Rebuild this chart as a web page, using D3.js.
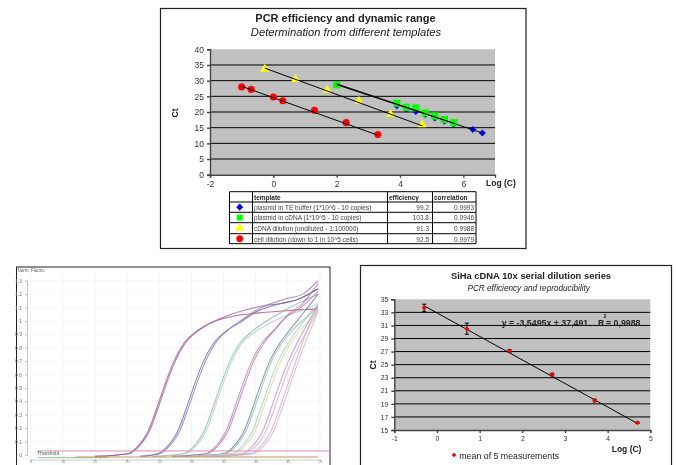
<!DOCTYPE html>
<html><head><meta charset="utf-8">
<script src="https://cdn.jsdelivr.net/npm/d3@7"></script>
<style>
html,body{margin:0;padding:0;background:#fff}
svg{display:block}
text{font-family:"Liberation Sans",Arial,sans-serif;fill:#222}
</style></head><body>
<div id="chart"></div>
<script>
// ---------- top chart data ----------
const topTitle = "PCR efficiency and dynamic range";
const topSubtitle = "Determination from different templates";
const blueX = [2, 3.9, 4.2, 4.5, 4.8, 5.1, 5.4, 5.7, 6.3, 6.6];
const blueY = [29, 22, 20.9, 20.2, 19.2, 18.1, 17.1, 16.2, 14.4, 13.3];
const greenX = [2, 3.9, 4.2, 4.5, 4.8, 5.1, 5.4, 5.7];
const greenY = [28.7, 22.8, 21.5, 21.3, 19.7, 18.7, 17.6, 16.6];
const yellowX = [-0.27, 0.7, 1.7, 2.7, 3.7, 4.7];
const yellowY = [33.7, 30.4, 27, 23.5, 19.3, 16];
const redX = [-1, -0.7, 0, 0.3, 1.3, 2.3, 3.3];
const redY = [28, 27.2, 24.8, 23.6, 20.5, 16.6, 12.8];
const blueTrend = [[2, 29], [6.6, 13.3]];
const greenTrend = [[2, 28.7], [5.7, 16.4]];
const yellowTrend = [[-0.27, 34], [4.7, 15.6]];
const redTrend = [[-1, 28.2], [3.3, 12.6]];
const tableHeader = ["template", "efficiency", "correlation"];
const tableTemplates = ["plasmid in TE buffer (1*10^6 - 10 copies)", "plasmid in cDNA (1*10^5 - 10 copies)", "cDNA dilution (undiluted - 1:100000)", "cell dilution (down to 1 in 10^5 cells)"];
const tableEfficiency = ["99.2", "103.8", "91.3", "92.5"];
const tableCorrelation = ["0.9993", "0.9946", "0.9988", "0.9979"];

// ---------- amplification plot data: [cycle, normalised fluorescence] ----------
const ampColors = ["#b2476f","#8d5fa8","#5d69a6","#9a6cb0","#7fb5a8","#a9cfae","#c56fa6","#a777b8","#66799f","#86bdb4","#a8cf98","#c9d9a8","#b88cc4","#dba9cc","#d3a3c8","#c9b5c6"];
const ampCycles = [
 [15,20.1,21.6,23.4,24.7,26,27.3,28.8,30.7,32.7,36,40.6,45.8,49.7],
 [15,20.3,21.8,23.6,24.9,26.2,27.5,29,30.9,32.9,36.2,40.8,46,49.7],
 [22,24.8,26.2,28,29.3,30.6,31.9,33.4,35.3,37.3,40.6,44,47,49.7],
 [22,25.1,26.5,28.3,29.6,30.9,32.2,33.7,35.6,37.6,40.9,44.3,47.3,49.7],
 [24,28.8,30.3,32.1,33.4,34.7,36,37.5,39.4,41.4,44.5,47,49.7],
 [24,29.1,30.6,32.4,33.7,35,36.3,37.8,39.7,41.7,44.8,47.3,49.7],
 [27,32.2,33.7,35.5,36.8,38.1,39.4,40.9,42.8,44.8,47,49.7],
 [27,32.5,34,35.8,37.1,38.4,39.7,41.2,43.1,45.1,47.3,49.7],
 [29,35,36.5,38.3,39.6,40.9,42.2,43.7,45.6,47.6,49.7],
 [29,35.3,36.8,38.6,39.9,41.2,42.5,44,45.9,47.9,49.7],
 [30,36.3,37.8,39.6,40.9,42.2,43.5,45,46.9,48.5,49.7],
 [30,36.7,38.2,40,41.3,42.6,43.9,45.4,47.3,48.8,49.7],
 [32,37.9,39.4,41.2,42.5,43.8,45.1,46.6,48.3,49.7],
 [32,38.4,39.9,41.7,43,44.3,45.6,47.1,48.7,49.7],
 [34,39.2,40.7,42.5,43.8,45.1,46.4,47.6,48.8,49.7],
 [34,39.6,41.1,42.9,44.2,45.5,46.8,48,49.1,49.7]
];
const ampValues = [
 [-0.01,0.01,0.06,0.19,0.36,0.54,0.70,0.83,0.92,0.98,1.03,1.06,1.08,1.09],
 [-0.01,0.01,0.06,0.19,0.36,0.54,0.70,0.83,0.92,0.98,1.05,1.11,1.15,1.24],
 [-0.01,0.01,0.06,0.19,0.36,0.54,0.70,0.83,0.92,0.98,1.08,1.13,1.17,1.24],
 [-0.01,0.01,0.06,0.19,0.36,0.54,0.70,0.83,0.93,1.00,1.10,1.16,1.20,1.30],
 [-0.01,0.01,0.06,0.19,0.36,0.54,0.70,0.83,0.92,0.99,1.08,1.14,1.20],
 [-0.01,0.01,0.06,0.19,0.36,0.54,0.70,0.83,0.91,0.97,1.04,1.08,1.13],
 [-0.01,0.01,0.06,0.19,0.36,0.54,0.70,0.83,0.93,1.03,1.10,1.22],
 [-0.01,0.01,0.06,0.19,0.36,0.54,0.70,0.83,0.94,1.05,1.13,1.28],
 [-0.01,0.01,0.06,0.19,0.36,0.54,0.70,0.83,0.95,1.07,1.20],
 [-0.01,0.01,0.06,0.19,0.36,0.54,0.70,0.83,0.94,1.03,1.12],
 [-0.01,0.01,0.06,0.19,0.36,0.54,0.70,0.83,0.96,1.05,1.10],
 [-0.01,0.01,0.06,0.19,0.36,0.54,0.70,0.83,0.95,1.03,1.08],
 [-0.01,0.01,0.06,0.19,0.36,0.54,0.70,0.85,1.00,1.12],
 [-0.01,0.01,0.06,0.19,0.36,0.54,0.70,0.85,0.99,1.08],
 [-0.01,0.01,0.06,0.19,0.36,0.54,0.72,0.88,1.02,1.10],
 [-0.01,0.01,0.06,0.19,0.36,0.54,0.72,0.87,1.00,1.07]
];
const ampYTicks = [0,0.1,0.2,0.3,0.4,0.5,0.6,0.7,0.8,0.9,1,1.1,1.2,1.3];
const ampXTicks = [5,10,15,20,25,30,35,40,45,50];
const thresholdLevel = 0.03;
const baselineGreen = [[6.2,-0.02],[17,-0.02]];
const baselineTan = [[12,-0.015],[49.7,-0.015]];

// ---------- SiHa chart data ----------
const sihaX = [-0.3, 0.7, 1.7, 2.7, 3.7, 4.7];
const sihaY = [33.7, 30.5, 27.1, 23.5, 19.5, 16.1];
const sihaErr = [0.55, 0.85, 0.2, 0.2, 0.2, 0.1];
const sihaTrend = [[-0.3, 34], [4.7, 16]];
const sihaYTicks = [15,17,19,21,23,25,27,29,31,33,35];
const sihaXTicks = [-1,0,1,2,3,4,5];

const svg = d3.select("#chart").append("svg").attr("width",676).attr("height",465);
const defs = svg.append("defs");
defs.append("filter").attr("id","soft").attr("x","-5%").attr("y","-5%").attr("width","110%").attr("height","110%")
  .append("feGaussianBlur").attr("stdDeviation",0.4);
defs.append("filter").attr("id","softer").attr("x","-5%").attr("y","-5%").attr("width","110%").attr("height","110%")
  .append("feGaussianBlur").attr("stdDeviation",0.6);
const line = (sx,sy)=>d3.line().x(d=>sx(d[0])).y(d=>sy(d[1]));
const plain = d=>String(d);

function styleAxis(g,size){
  g.selectAll("path,line").attr("stroke","#444").attr("stroke-width",1.4);
  g.selectAll("text").attr("font-size",size).style("fill","#333");
}

// ================= TOP =================
(function(){
  const g = svg.append("g").attr("filter","url(#soft)");
  g.append("rect").attr("x",160.5).attr("y",8.5).attr("width",365.5).attr("height",240).attr("fill","#fff").attr("stroke","#222").attr("stroke-width",1.2);
  const x = d3.scaleLinear().domain([-2,7]).range([210,495]);
  const y = d3.scaleLinear().domain([0,40]).range([174.7,49.3]);
  g.append("rect").attr("x",x(-2)).attr("y",y(40)).attr("width",x(7)-x(-2)).attr("height",y(0)-y(40)).attr("fill","#c0c0c0");
  g.append("g").selectAll("line").data(d3.range(5,40,5)).join("line")
    .attr("x1",x(-2)).attr("x2",x(7)).attr("y1",d=>y(d)).attr("y2",d=>y(d)).attr("stroke","#000").attr("stroke-width",1);
  const ax = g.append("g").attr("transform",`translate(0,${y(0)})`).call(d3.axisBottom(x).tickValues([-2,0,2,4,6]).tickSize(3).tickFormat(plain));
  styleAxis(ax,8.5);
  const ay = g.append("g").attr("transform","translate(210,0)").call(d3.axisLeft(y).tickValues(d3.range(0,41,5)).tickSize(3).tickFormat(plain));
  styleAxis(ay,8.5);
  const zip=(a,b)=>a.map((v,i)=>[v,b[i]]);
  const sym=(type,size,color,xs,ys)=>g.append("g").selectAll("path").data(zip(xs,ys)).join("path")
     .attr("d",d3.symbol().type(type).size(size)).attr("fill",color)
     .attr("transform",d=>`translate(${x(d[0])},${y(d[1])})`);
  sym(d3.symbolDiamond2||d3.symbolDiamond,32,"#0000ff",blueX,blueY);
  sym(d3.symbolSquare,52,"#00ff00",greenX,greenY);
  sym(d3.symbolTriangle,36,"#ffff00",yellowX,yellowY);
  sym(d3.symbolCircle,40,"#ff0000",redX,redY);
  [blueTrend,greenTrend,yellowTrend,redTrend].forEach(t=>{
    g.append("path").attr("d",line(x,y)(t)).attr("fill","none").attr("stroke","#000").attr("stroke-width",1);
  });
  g.append("text").attr("x",345.5).attr("y",22).attr("text-anchor","middle").attr("font-size",11).attr("font-weight","bold").text(topTitle);
  g.append("text").attr("x",346).attr("y",36).attr("text-anchor","middle").attr("font-size",11.2).attr("font-style","italic").text(topSubtitle);
  g.append("text").attr("transform","translate(178,113) rotate(-90)").attr("text-anchor","middle").attr("font-size",8.5).attr("font-weight","bold").text("Ct");
  g.append("text").attr("x",486).attr("y",186).attr("font-size",8.5).attr("font-weight","bold").text("Log (C)");
  const cols=[229.5,252.5,387.5,432.5,476];
  const rows=[191.7,202,212.3,222.7,233.7,243.7];
  const t=g.append("g");
  cols.forEach(c=>t.append("line").attr("x1",c).attr("x2",c).attr("y1",rows[0]).attr("y2",rows[5]).attr("stroke","#000").attr("stroke-width",1));
  rows.forEach(r=>t.append("line").attr("x1",cols[0]).attr("x2",cols[4]).attr("y1",r).attr("y2",r).attr("stroke","#000").attr("stroke-width",1));
  const font=6.5;
  t.append("text").attr("x",254).attr("y",200).attr("font-size",font).attr("font-weight","bold").text(tableHeader[0]);
  t.append("text").attr("x",389).attr("y",200).attr("font-size",font).attr("font-weight","bold").text(tableHeader[1]);
  t.append("text").attr("x",434).attr("y",200).attr("font-size",font).attr("font-weight","bold").text(tableHeader[2]);
  tableTemplates.forEach((s,i)=>{
    const yy=rows[i+1]+8;
    t.append("text").attr("x",254).attr("y",yy).attr("font-size",font).style("fill","#444").text(s);
    t.append("text").attr("x",429).attr("y",yy).attr("text-anchor","end").attr("font-size",font).style("fill","#444").text(tableEfficiency[i]);
    t.append("text").attr("x",474).attr("y",yy).attr("text-anchor","end").attr("font-size",font).style("fill","#444").text(tableCorrelation[i]);
  });
  const lg=[[d3.symbolDiamond2||d3.symbolDiamond,32,"#0000ff"],[d3.symbolSquare,36,"#00ff00"],[d3.symbolTriangle,36,"#ffff00"],[d3.symbolCircle,36,"#ff0000"]];
  lg.forEach((l,i)=>t.append("path").attr("d",d3.symbol().type(l[0]).size(l[1])).attr("fill",l[2])
     .attr("transform",`translate(239.7,${(rows[i+1]+rows[i+2])/2})`));
})();

// ================= AMPLIFICATION =================
(function(){
  const g = svg.append("g").attr("filter","url(#softer)");
  g.append("rect").attr("x",16.5).attr("y",267).attr("width",313.5).attr("height",200).attr("fill","#fff").attr("stroke","#222").attr("stroke-width",1);
  const x = d3.scaleLinear().domain([5,50]).range([30.5,320]);
  const y = d3.scaleLinear().domain([0,1.3]).range([455,280.7]);
  g.append("g").selectAll("line").data(ampXTicks).join("line").attr("x1",d=>x(d)).attr("x2",d=>x(d)).attr("y1",272).attr("y2",458).attr("stroke","#f3f3f6").attr("stroke-width",1);
  g.append("g").selectAll("line").data(ampYTicks).join("line").attr("x1",27).attr("x2",326).attr("y1",d=>y(d)).attr("y2",d=>y(d)).attr("stroke","#f8f8fa").attr("stroke-width",1);
  const ay=g.append("g").attr("transform","translate(27,0)").call(d3.axisLeft(y).tickValues(ampYTicks).tickSize(2).tickFormat(plain));
  ay.selectAll("path,line").attr("stroke","#c4c4c4");
  ay.selectAll("text").attr("font-size",5).style("fill","#777");
  const ax=g.append("g").attr("transform","translate(0,459.5)").call(d3.axisBottom(x).tickValues(ampXTicks).tickSize(1.5).tickPadding(0).tickFormat(plain));
  ax.select("path").attr("stroke","#ccc");
  ax.selectAll("line").attr("stroke","#bbb");
  ax.selectAll("text").attr("font-size",3.6).attr("y",1.4).attr("dy","0.71em").style("fill","#777");
  g.append("text").attr("x",17.5).attr("y",272).attr("font-size",4.5).style("fill","#555").text("Norm. Fluoro.");
  const curve=d3.line().x(d=>x(d[0])).y(d=>y(d[1])).curve(d3.curveMonotoneX);
  ampCycles.forEach((cs,i)=>{
    g.append("path").attr("d",curve(cs.map((c,j)=>[c,ampValues[i][j]]))).attr("fill","none").attr("stroke",ampColors[i]).attr("stroke-width",1.05).attr("opacity",0.78);
  });
  g.append("line").attr("x1",x(6.2)).attr("x2",330).attr("y1",y(thresholdLevel)).attr("y2",y(thresholdLevel)).attr("stroke","#d98fb4").attr("stroke-width",1);
  g.append("path").attr("d",line(x,y)(baselineGreen)).attr("stroke","#8fc78a").attr("stroke-width",1).attr("fill","none");
  g.append("path").attr("d",line(x,y)(baselineTan)).attr("stroke","#b89a5c").attr("stroke-width",1.2).attr("fill","none");
  g.append("text").attr("x",37).attr("y",455).attr("font-size",5).style("fill","#555").text("Threshold");
})();

// ================= SIHA =================
(function(){
  const g = svg.append("g").attr("filter","url(#soft)");
  g.append("rect").attr("x",360.5).attr("y",265.5).attr("width",311).attr("height",205).attr("fill","#fff").attr("stroke","#222").attr("stroke-width",1.2);
  const x = d3.scaleLinear().domain([-1,5]).range([394.3,650.3]);
  const y = d3.scaleLinear().domain([15,35]).range([430,299.3]);
  g.append("rect").attr("x",x(-1)).attr("y",y(35)).attr("width",x(5)-x(-1)).attr("height",y(15)-y(35)).attr("fill","#c0c0c0");
  g.append("g").selectAll("line").data(sihaYTicks.filter(d=>d>15&&d<35)).join("line")
    .attr("x1",x(-1)).attr("x2",x(5)).attr("y1",d=>y(d)).attr("y2",d=>y(d)).attr("stroke","#000").attr("stroke-width",1);
  const ax=g.append("g").attr("transform","translate(0,430)").call(d3.axisBottom(x).tickValues(sihaXTicks).tickSize(3).tickFormat(plain));
  styleAxis(ax,6.8);
  const ay=g.append("g").attr("transform","translate(394.3,0)").call(d3.axisLeft(y).tickValues(sihaYTicks).tickSize(3).tickFormat(plain));
  styleAxis(ay,6.8);
  g.append("path").attr("d",line(x,y)(sihaTrend)).attr("fill","none").attr("stroke","#000").attr("stroke-width",1);
  sihaX.forEach((v,i)=>{
    const px=x(v),lo=y(sihaY[i]-sihaErr[i]),hi=y(sihaY[i]+sihaErr[i]);
    g.append("line").attr("x1",px).attr("x2",px).attr("y1",lo).attr("y2",hi).attr("stroke","#000").attr("stroke-width",1);
    g.append("line").attr("x1",px-2).attr("x2",px+2).attr("y1",lo).attr("y2",lo).attr("stroke","#000").attr("stroke-width",1);
    g.append("line").attr("x1",px-2).attr("x2",px+2).attr("y1",hi).attr("y2",hi).attr("stroke","#000").attr("stroke-width",1);
  });
  g.append("g").selectAll("path").data(sihaX.map((v,i)=>[v,sihaY[i]])).join("path")
    .attr("d",d3.symbol().type(d3.symbolDiamond2||d3.symbolDiamond).size(16)).attr("fill","#f00")
    .attr("transform",d=>`translate(${x(d[0])},${y(d[1])})`);
  g.append("text").attr("x",531).attr("y",279).attr("text-anchor","middle").attr("font-size",9.4).attr("font-weight","bold").text("SiHa cDNA 10x serial dilution series");
  g.append("text").attr("x",528.7).attr("y",291).attr("text-anchor","middle").attr("font-size",8.2).attr("font-style","italic").text("PCR efficiency and reproducibility");
  g.append("text").attr("transform","translate(376,365) rotate(-90)").attr("text-anchor","middle").attr("font-size",8.5).attr("font-weight","bold").text("Ct");
  g.append("text").attr("x",501.7).attr("y",326).attr("font-size",8.8).attr("font-weight","bold").text("y = -3,5495x + 37,491");
  g.append("text").attr("x",598).attr("y",326).attr("font-size",8.8).attr("font-weight","bold").text("R");
  g.append("text").attr("x",603.5).attr("y",318).attr("font-size",5.5).attr("font-weight","bold").text("2");
  g.append("text").attr("x",606).attr("y",326).attr("font-size",8.8).attr("font-weight","bold").text("= 0,9988");
  g.append("text").attr("x",611.7).attr("y",452).attr("font-size",8.5).attr("font-weight","bold").text("Log (C)");
  g.append("path").attr("d",d3.symbol().type(d3.symbolDiamond2||d3.symbolDiamond).size(14)).attr("fill","#f00").attr("transform","translate(454,455)");
  g.append("text").attr("x",459.3).attr("y",459).attr("font-size",8.8).text("mean of 5 measurements");
})();
</script>
</body></html>
